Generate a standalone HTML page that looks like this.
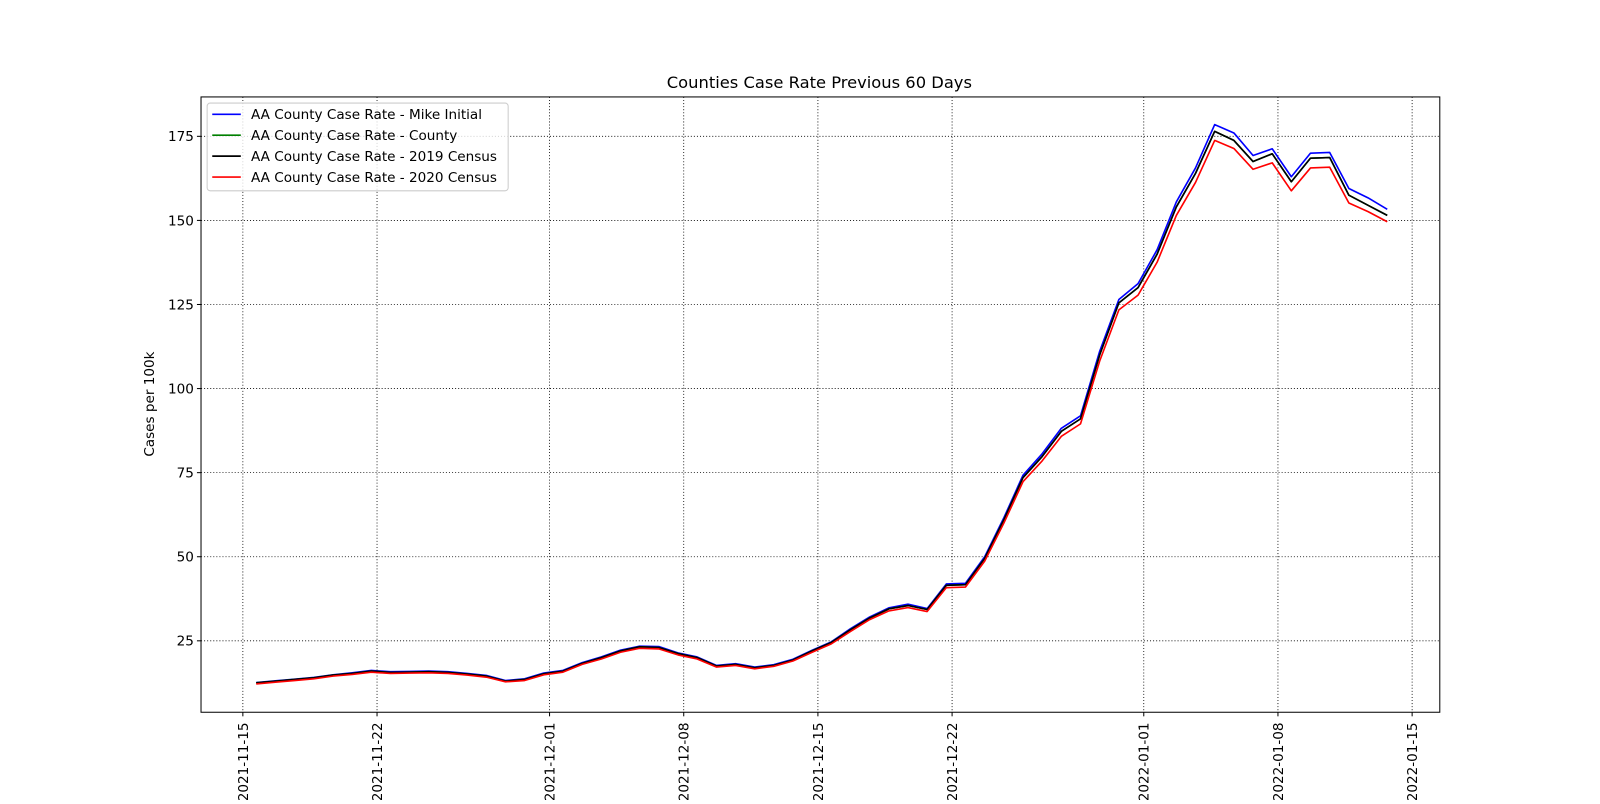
<!DOCTYPE html>
<html><head><meta charset="utf-8"><style>
body{margin:0;background:#fff;font-family:"DejaVu Sans","Liberation Sans",sans-serif}
</style></head><body>
<svg id="chart" width="1600" height="800" viewBox="0 0 1568 784" xmlns="http://www.w3.org/2000/svg" font-family="DejaVu Sans, Liberation Sans, sans-serif">
<rect width="1568" height="784" fill="#fff"/>
<text x="803" y="86" font-size="16" text-anchor="middle">Counties Case Rate Previous 60 Days</text>
<g id="grid"></g><g id="series"></g><g id="axes"></g>
<text transform="translate(151,396) rotate(-90)" font-size="13.3" text-anchor="middle">Cases per 100k</text>
<g id="legend"></g>
</svg>
<script>
const black=[12.5,13.0,13.5,14.0,14.8,15.3,16.0,15.6,15.7,15.8,15.6,15.1,14.5,13.0,13.5,15.2,16.0,18.3,20.0,22.0,23.2,23.0,21.2,20.0,17.5,18.0,17.0,17.7,19.3,22.0,24.5,28.3,31.8,34.5,35.5,34.3,41.5,41.7,49.5,61,73.5,79.8,87.3,91,110,125.5,130,140,154,164,176.5,173.8,167.5,169.8,161.5,168.5,168.7,157.5,154.5,151.5];
const green=[12.5,13.0,13.5,14.0,14.8,15.3,16.0,15.6,15.7,15.8,15.6,15.1,14.5,13.0,13.5,15.2,16.0,18.3,20.0,22.0,23.2,23.0,21.2,20.0,17.5,18.0,17.0,17.7,19.3,22.0,24.5,28.3,31.8,34.5,35.5,34.3,41.5,41.7,49.5,61,73.5,79.8,87.3,91,110,125.5,130,140,154,164,176.5,173.8,167.5,169.8,161.5,168.5,168.7,157.5,154.5,151.5];
const blue=[12.6,13.1,13.6,14.1,14.9,15.5,16.2,15.8,15.9,16.0,15.8,15.3,14.7,13.2,13.7,15.4,16.2,18.5,20.2,22.2,23.4,23.3,21.4,20.2,17.7,18.2,17.2,17.9,19.5,22.2,24.7,28.6,32.1,34.8,35.9,34.6,41.9,42.1,50.0,61.6,74.2,80.6,88.2,91.9,111.1,126.5,131.2,141.3,155.5,165.6,178.5,176.0,169.3,171.3,163.0,170.0,170.2,159.5,156.7,153.3];
const red=[12.2,12.7,13.2,13.7,14.5,15.0,15.7,15.3,15.4,15.5,15.3,14.8,14.2,12.8,13.2,14.9,15.7,18.0,19.6,21.6,22.8,22.6,20.8,19.6,17.2,17.7,16.7,17.4,19.0,21.6,24.1,27.8,31.3,33.9,34.9,33.7,40.8,41.0,48.7,60.0,72.3,78.5,85.8,89.5,108.2,123.4,127.8,137.6,151.5,161.3,173.8,171.4,165.2,167.1,158.8,165.6,165.8,155.2,152.6,149.6];
const yTicks=[25,50,75,100,125,150,175];
const xTickLabels=["2021-11-15","2021-11-22","2021-12-01","2021-12-08","2021-12-15","2021-12-22","2022-01-01","2022-01-08","2022-01-15"];
const xTickDays=[0,7,16,23,30,37,47,54,61];
const startDay=0.7;
const L=197,R=1411,T=95,B=698;
const px=d=>238+d*18.785;
const py=v=>710.4-v*3.296;
const NS="http://www.w3.org/2000/svg";
function mk(tag,attrs,parent){const e=document.createElementNS(NS,tag);for(const k in attrs)e.setAttribute(k,attrs[k]);parent.appendChild(e);return e;}
const grid=document.getElementById('grid'),axes=document.getElementById('axes'),ser=document.getElementById('series'),leg=document.getElementById('legend');
yTicks.forEach(v=>{const y=py(v);
 const g=mk('line',{x1:L,x2:R,y1:y,y2:y,stroke:'#000','stroke-width':0.8,'stroke-dasharray':'1,2'},grid);
 
 
 mk('line',{x1:L-4,x2:L,y1:y,y2:y,stroke:'#000'},axes);
 const t=mk('text',{x:L-7,y:y+4.8,'font-size':13.3,'text-anchor':'end'},axes);t.textContent=v;
 
 
});
xTickDays.forEach((d,i)=>{const x=px(d);
 const g=mk('line',{x1:x,x2:x,y1:T,y2:B,stroke:'#000','stroke-width':0.8,'stroke-dasharray':'1,2'},grid);
 
 
 mk('line',{x1:x,x2:x,y1:B,y2:B+4,stroke:'#000'},axes);
 const t=mk('text',{transform:`translate(${x+4.8},${B+10}) rotate(-90)`,'font-size':13.3,'text-anchor':'end'},axes);t.textContent=xTickLabels[i];
 
 
});
const fr=mk('rect',{x:L,y:T,width:R-L,height:B-T,fill:'none',stroke:'#000','stroke-width':1},axes);


const series=[["AA County Case Rate - Mike Initial",blue,"#0000ff","series-mike-initial"],["AA County Case Rate - County",green,"#008000","series-county"],["AA County Case Rate - 2019 Census",black,"#000000","series-2019-census"],["AA County Case Rate - 2020 Census",red,"#ff0000","series-2020-census"]];
series.forEach(([name,vals,col,dn])=>{
 const pts=vals.map((v,i)=>px(startDay+i).toFixed(1)+','+py(v).toFixed(1)).join(' ');
 const p=mk('polyline',{points:pts,fill:'none',stroke:col,'stroke-width':1.6,'stroke-linejoin':'round'},ser);
 
 
});
const lb=mk('rect',{x:203,y:101,width:295,height:86,rx:3,fill:'#fff','fill-opacity':0.8,stroke:'#ccc'},leg);


series.forEach(([name,vals,col,dn],i)=>{const y=112+i*20.5;
 mk('line',{x1:208,x2:236,y1:y,y2:y,stroke:col,'stroke-width':1.6},leg);
 const t=mk('text',{x:246,y:y+4.8,'font-size':13.3},leg);t.textContent=name;
 
 
});
</script>
</body></html>
